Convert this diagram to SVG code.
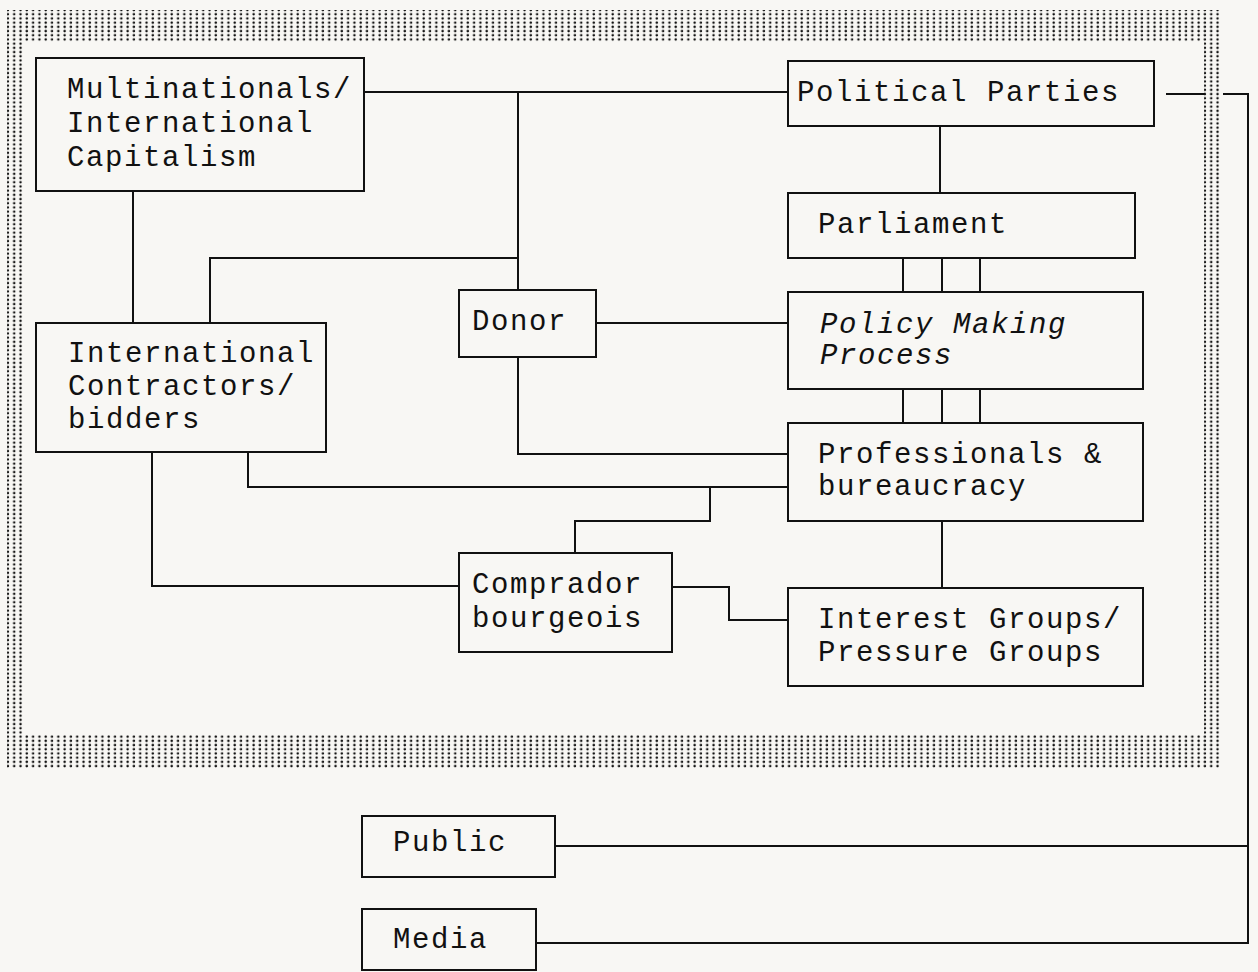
<svg xmlns="http://www.w3.org/2000/svg" width="1258" height="972" viewBox="0 0 1258 972">
<style>
.box{fill:none;stroke:#111;stroke-width:2}
.ln{fill:none;stroke:#111;stroke-width:2}
text{font-family:"Liberation Mono","DejaVu Sans Mono",monospace;font-size:29px;letter-spacing:1.6px;fill:#111}
.it{font-style:italic}
</style>
<defs>
<pattern id="dots" patternUnits="userSpaceOnUse" width="6.3" height="4.2">
<circle cx="1.6" cy="1.6" r="1.25" fill="#111"/>
</pattern>
</defs>
<rect width="1258" height="972" fill="#f8f7f4"/>
<path id="frame" d="M7 10H1221V768H7Z M24 42V735H1204V42Z" fill="url(#dots)" fill-rule="evenodd"/>
<g id="connectors">
<path class="ln" d="M364 92H788"/>
<path class="ln" d="M518 92V290"/>
<path class="ln" d="M518 357V454H788"/>
<path class="ln" d="M210 323V258H518"/>
<path class="ln" d="M133 191V323"/>
<path class="ln" d="M596 323H788"/>
<path class="ln" d="M940 126V193"/>
<path class="ln" d="M903 258V292M942 258V292M980 258V292"/>
<path class="ln" d="M903 389V423M942 389V423M980 389V423"/>
<path class="ln" d="M248 452V487H788"/>
<path class="ln" d="M710 487V521H575V553"/>
<path class="ln" d="M152 452V586H459"/>
<path class="ln" d="M672 587H729V620H788"/>
<path class="ln" d="M942 521V588"/>
<path class="ln" d="M1166 94H1205"/>
<path class="ln" d="M1223 94H1248V943H536"/>
<path class="ln" d="M555 846H1248"/>
</g>
<g id="multinationals">
<rect class="box" x="36" y="58" width="328" height="133"/>
<text x="67" y="98">Multinationals/</text>
<text x="67" y="132">International</text>
<text x="67" y="166">Capitalism</text>
</g>
<g id="political-parties">
<rect class="box" x="788" y="61" width="366" height="65"/>
<text x="797" y="101">Political Parties</text>
</g>
<g id="parliament">
<rect class="box" x="788" y="193" width="347" height="65"/>
<text x="818" y="233">Parliament</text>
</g>
<g id="policy">
<rect class="box" x="788" y="292" width="355" height="97"/>
<text class="it" x="820" y="333">Policy Making</text>
<text class="it" x="820" y="364">Process</text>
</g>
<g id="donor">
<rect class="box" x="459" y="290" width="137" height="67"/>
<text x="472" y="330">Donor</text>
</g>
<g id="contractors">
<rect class="box" x="36" y="323" width="290" height="129"/>
<text x="68" y="362">International</text>
<text x="68" y="395">Contractors/</text>
<text x="68" y="428">bidders</text>
</g>
<g id="professionals">
<rect class="box" x="788" y="423" width="355" height="98"/>
<text x="818" y="463">Professionals &amp;</text>
<text x="818" y="495">bureaucracy</text>
</g>
<g id="comprador">
<rect class="box" x="459" y="553" width="213" height="99"/>
<text x="472" y="593">Comprador</text>
<text x="472" y="627">bourgeois</text>
</g>
<g id="interest-groups">
<rect class="box" x="788" y="588" width="355" height="98"/>
<text x="818" y="628">Interest Groups/</text>
<text x="818" y="661">Pressure Groups</text>
</g>
<g id="public">
<rect class="box" x="362" y="816" width="193" height="61"/>
<text x="393" y="851">Public</text>
</g>
<g id="media">
<rect class="box" x="362" y="909" width="174" height="61"/>
<text x="393" y="948">Media</text>
</g>
</svg>
